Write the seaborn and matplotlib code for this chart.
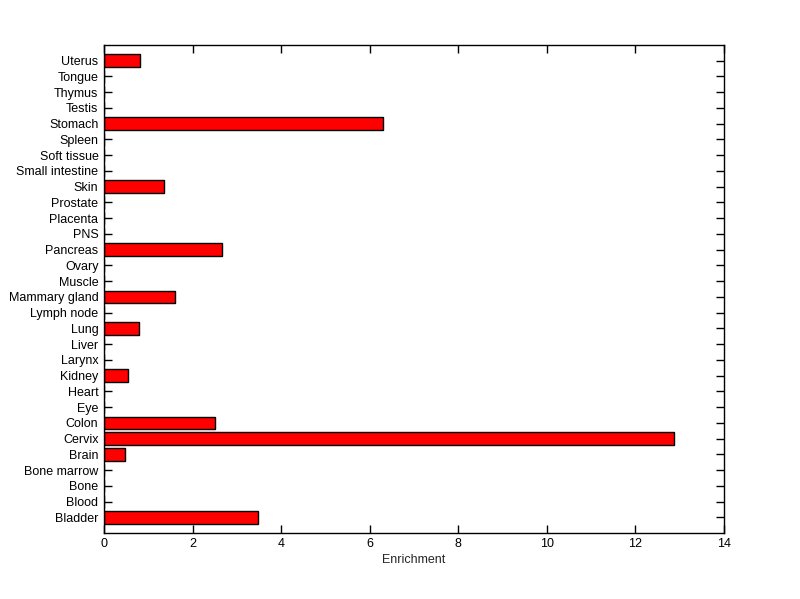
import matplotlib
matplotlib.use("Agg")
import matplotlib.pyplot as plt
import seaborn as sns
import pandas as pd

# tissues, bottom to top as in the original chart
tissues = ['Bladder', 'Blood', 'Bone', 'Bone marrow', 'Brain', 'Cervix', 'Colon',
           'Eye', 'Heart', 'Kidney', 'Larynx', 'Liver', 'Lung', 'Lymph node',
           'Mammary gland', 'Muscle', 'Ovary', 'Pancreas', 'PNS', 'Placenta',
           'Prostate', 'Skin', 'Small intestine', 'Soft tissue', 'Spleen',
           'Stomach', 'Testis', 'Thymus', 'Tongue', 'Uterus']
enrichment = [3.48, 0, 0, 0, 0.48, 12.86, 2.51,
              0, 0, 0.55, 0, 0, 0.78, 0,
              1.61, 0, 0, 2.66, 0, 0,
              0, 1.35, 0, 0, 0,
              6.30, 0, 0, 0, 0.81]

df = pd.DataFrame({'Tissue': tissues, 'Enrichment': enrichment})

sns.set_style('ticks')
plt.rcParams['font.family'] = ['Liberation Sans', 'DejaVu Sans']

fig = plt.figure(figsize=(8, 5.99), dpi=100)
ax = fig.add_axes([0.13, 0.110, 0.775, 0.815])

sns.barplot(data=df, x='Enrichment', y='Tissue', order=tissues[::-1],
            color='red', saturation=1, width=0.8, edgecolor='black',
            linewidth=1, ax=ax)

ax.set_xlim(0, 14)
ax.set_xticks(range(0, 15, 2))
ax.set_ylim(len(tissues), -1)
ax.set_ylabel('')
ax.set_xlabel('Enrichment', fontsize=9, labelpad=3)

for s in ax.spines.values():
    s.set_visible(True)
    s.set_color('black')
    s.set_linewidth(1)

ax.tick_params(axis='both', direction='in', length=6, width=1, labelsize=9,
               top=True, right=True, colors='black')
ax.tick_params(axis='y', pad=4)

fig.savefig('out.png', dpi=100, facecolor='white')
